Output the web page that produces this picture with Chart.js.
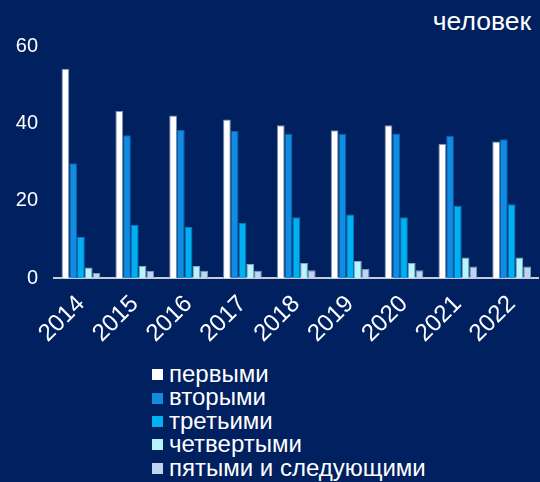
<!DOCTYPE html>
<html>
<head>
<meta charset="utf-8">
<script src="https://cdn.jsdelivr.net/npm/chart.js@4"></script>
<style>
    html, body {
        margin: 0;
        padding: 0;
        width: 540px;
        height: 482px;
        overflow: hidden;
        background: #002060;
        font-family: Arial, "Liberation Sans", sans-serif;
    }
    #wrap {
        position: absolute;
        left: 0;
        top: 0;
        width: 544px;
        height: 360px;
    }
    #unit {
        position: absolute;
        right: 9px;
        top: 6px;
        color: #ffffff;
        font-size: 26.5px;
    }
    #legend {
        position: absolute;
        left: 152px;
        top: 362px;
        color: #ffffff;
        font-size: 24px;
        line-height: 23.4px;
    }
    .item {
        display: flex;
        align-items: center;
        white-space: nowrap;
    }
    .box {
        width: 11px;
        height: 11px;
        margin-right: 6px;
        margin-top: 2px;
    }
</style>
</head>
<body>
<div id="unit">человек</div>
<div id="wrap"><canvas id="chart" width="544" height="360"></canvas></div>
<div id="legend"></div>

<script>
// Годы
const years = ['2014', '2015', '2016', '2017', '2018', '2019', '2020', '2021', '2022'];

// Серии (человек)
const firstBorn  = [54.1, 43.2, 42.0, 41.0, 39.5, 38.2, 39.5, 34.7, 35.3];
const secondBorn = [29.7, 36.9, 38.3, 38.0, 37.3, 37.3, 37.4, 36.8, 35.9];
const thirdBorn  = [10.6, 13.7, 13.2, 14.2, 15.7, 16.4, 15.7, 18.7, 19.1];
const fourthBorn = [2.7, 3.1, 3.1, 3.6, 3.9, 4.4, 3.9, 5.3, 5.3];
const fifthPlus  = [1.3, 1.8, 1.9, 1.9, 2.0, 2.3, 2.0, 3.0, 3.0];

const seriesNames = ['первыми', 'вторыми', 'третьими', 'четвертыми', 'пятыми и следующими'];
const yTicks = [0, 20, 40, 60];

const COLORS = ['#ffffff', '#108ce0', '#00b0f0', '#b8f4fe', '#bdd5ee'];
const BORDERS = ['#7f8fb0', '#0a5fae', '#0a78b8', '#7fa8c0', '#8098b8'];

const seriesData = [firstBorn, secondBorn, thirdBorn, fourthBorn, fifthPlus];

const datasets = seriesData.map(function(values, i) {
    return {
        label: seriesNames[i],
        data: values,
        backgroundColor: COLORS[i],
        borderColor: BORDERS[i],
        borderWidth: 1,
        barPercentage: 1,
        categoryPercentage: 0.72,
    };
});

new Chart(document.getElementById('chart'), {
    type: 'bar',
    data: {
        labels: years,
        datasets: datasets,
    },
    options: {
        responsive: false,
        animation: false,
        layout: {
            padding: { top: 46, left: 0, right: 0, bottom: 0 }
        },
        plugins: {
            legend: { display: false },
            tooltip: { enabled: false },
        },
        scales: {
            x: {
                grid: { display: false, drawTicks: false },
                border: { display: true, color: '#c8ccd6', width: 2 },
                ticks: {
                    color: '#ffffff',
                    font: { family: 'Arial', size: 24 },
                    minRotation: 45,
                    maxRotation: 45,
                    padding: 12,
                },
                afterFit: function(scale) {
                    scale.height = 82;
                },
            },
            y: {
                min: 0,
                max: 60,
                afterBuildTicks: function(scale) {
                    scale.ticks = yTicks.map(function(v) { return { value: v }; });
                },
                grid: { display: false, drawTicks: false },
                border: { display: false },
                ticks: {
                    color: '#ffffff',
                    font: { family: 'Arial', size: 20 },
                    padding: 16,
                },
                afterFit: function(scale) {
                    scale.width = 54;
                },
            }
        }
    }
});

// Легенда
const legend = document.getElementById('legend');
seriesNames.forEach(function(name, i) {
    legend.innerHTML += '<div class="item"><span class="box" style="background:' + COLORS[i] + '"></span>' + name + '</div>';
});
</script>
</body>
</html>
